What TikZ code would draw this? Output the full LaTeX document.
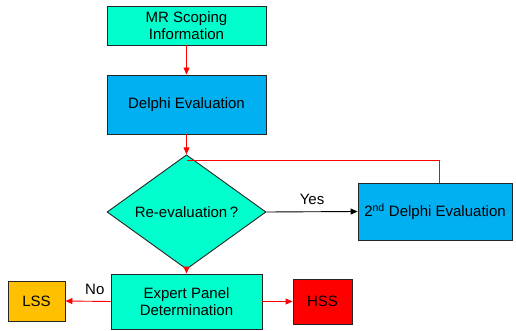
\documentclass[tikz,border=0pt]{standalone}
\usepackage{fontspec}
\setmainfont{Liberation Sans}
\usetikzlibrary{shapes.geometric,arrows.meta}
\definecolor{aqua}{HTML}{00FFCC}
\definecolor{skyb}{HTML}{00B0F0}
\definecolor{lssc}{HTML}{FFC000}
\definecolor{hssc}{HTML}{FF0000}
\begin{document}
\begin{tikzpicture}[x=1pt,y=-1pt,
  box/.style={draw=black!85,line width=0.9pt,inner sep=0pt,align=center,font=\fontsize{15}{17.5}\selectfont},
  rl/.style={draw=red,line width=0.9pt},
  ra/.style={rl,-{Triangle[length=7pt,width=6pt]}},
  ba/.style={draw=black,line width=0.9pt,-{Triangle[length=7pt,width=6pt]}},
  lbl/.style={font=\fontsize{15}{17.5}\selectfont}]
\useasboundingbox (0,0) rectangle (516,331);
\node[box,fill=aqua,minimum width=159pt,minimum height=39pt] (mr) at (186.5,25.5) {MR Scoping\\Information};
\node[box,fill=skyb,minimum width=159pt,minimum height=59pt] (d1) at (186.5,104.5) {Delphi Evaluation};
\node[box,fill=aqua,shape=diamond,minimum width=159pt,minimum height=68pt] (re) at (186.5,212) {Re-evaluation\,?};
\node[box,fill=skyb,minimum width=154pt,minimum height=57pt] (d2) at (435,211.5) {2\textsuperscript{nd} Delphi Evaluation};
\node[box,fill=aqua,minimum width=151pt,minimum height=55pt] (ep) at (186.5,301.5) {Expert Panel\\Determination};
\node[box,fill=lssc,minimum width=57pt,minimum height=40pt] (lss) at (36.5,301) {LSS};
\node[box,fill=hssc,minimum width=59pt,minimum height=45pt] (hss) at (322.5,301.5) {HSS};
\coordinate (j) at (186.5,160);
\coordinate (t) at (439,183);
\draw[ra] (mr) -- (d1);
\draw[ra] (d1) -- (re);
\draw[rl] (t) |- (j);
\draw[ba] (re.east) -- (d2.west) node[lbl,midway,above=3pt] {Yes};
\draw[ra] (re) -- (ep);
\draw[ra] (ep.west) -- (lss.east -| lss.east) node[lbl,pos=0.35,above=3pt] {No};
\draw[ra] (ep.east) -- (hss.west);
\end{tikzpicture}
\end{document}
